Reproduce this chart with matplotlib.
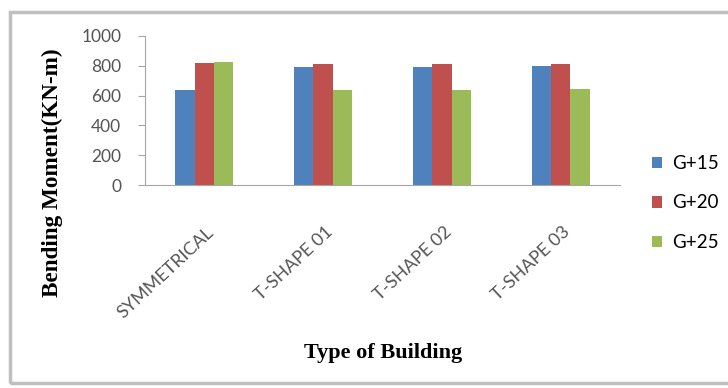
import matplotlib.pyplot as plt
import numpy as np
from matplotlib.patches import Rectangle

# --- Data ---
categories = ["SYMMETRICAL", "T-SHAPE 01", "T-SHAPE 02", "T-SHAPE 03"]
series_names = ["G+15", "G+20", "G+25"]
g15 = [637, 795, 795, 800]
g20 = [822, 810, 810, 815]
g25 = [825, 640, 640, 645]
y_ticks = [0, 200, 400, 600, 800, 1000]

colors = ["#4F81BD", "#C0504D", "#9BBB59"]

fig = plt.figure(figsize=(7.28, 3.88), dpi=100)
ax = fig.add_axes([145 / 728, 203 / 388, 475 / 728, 149 / 388])

x = np.arange(len(categories))
bar_w = 0.163
bars = []
for i, (vals, name) in enumerate(zip([g15, g20, g25], series_names)):
    b = ax.bar(x + (i - 1) * bar_w, vals, width=bar_w, color=colors[i], label=name, zorder=2)
    bars.append(b)

ax.set_xlim(-0.5, len(categories) - 0.5)
ax.set_ylim(0, 1000)
ax.set_yticks(y_ticks)
ax.set_yticklabels([str(t) for t in y_ticks], fontsize=12.5, family="Lato", color="#555555")
ax.set_xticks(x + 0.015)
ax.set_xticklabels(categories, rotation=43, ha="right", rotation_mode="anchor",
                   fontsize=13, family="Lato", color="#555555")

for s in ["top", "right"]:
    ax.spines[s].set_visible(False)
ax.spines["left"].set_color("#a6a6a6")
ax.spines["bottom"].set_color("#a6a6a6")
ax.tick_params(axis="y", length=5, color="#a6a6a6", pad=12)
ax.tick_params(axis="x", length=0, pad=28)

fig.text(52 / 728, 1 - 173 / 388, "Bending Moment(KN-m)", family="Liberation Serif",
         fontweight="bold", fontsize=16.7, rotation=90, ha="center", va="center")
fig.text(383 / 728, 1 - 353 / 388, "Type of Building", family="Liberation Serif",
         fontweight="bold", fontsize=16, ha="center", va="center")

fig.legend(handles=bars, labels=series_names, loc="center left",
           bbox_to_anchor=(652 / 728, 1 - 203 / 388), frameon=False,
           prop={"family": "Lato", "size": 13.5}, handlelength=0.55, handleheight=0.55,
           handletextpad=0.5, labelspacing=1.2, borderpad=0, borderaxespad=0)

# gray outer frame
fig.patches.append(Rectangle((10 / 728, 5 / 388), 0.99, 371 / 388, transform=fig.transFigure,
                             fill=False, edgecolor="#bfbfbf", linewidth=2.5))

fig.savefig("out.png", dpi=100)
